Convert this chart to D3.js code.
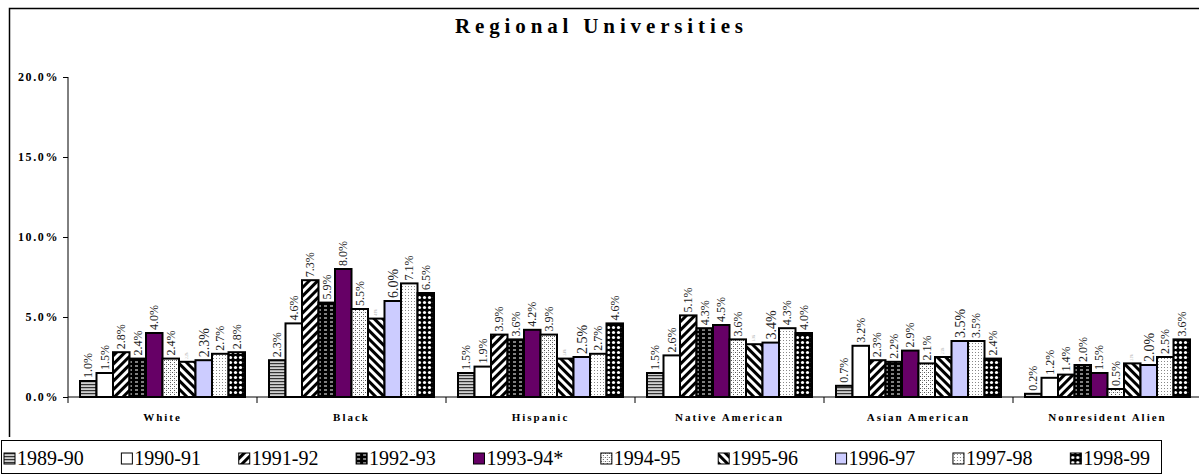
<!DOCTYPE html>
<html>
<head>
<meta charset="utf-8">
<script src="https://cdn.jsdelivr.net/npm/d3@7"></script>
<style>
  body { margin: 0; background: #fff; }
  svg { display: block; }
  svg text { font-family: "Liberation Serif", "Times New Roman", serif; }
</style>
</head>
<body>
<div id="chart"></div>
<script>
var categories = ["White", "Black", "Hispanic", "Native American", "Asian American", "Nonresident Alien"];
var years = ["1989-90", "1990-91", "1991-92", "1992-93", "1993-94*", "1994-95", "1995-96", "1996-97", "1997-98", "1998-99"];
// one array per year, values in category order (percent)
var v1989 = [1.0, 2.3, 1.5, 1.5, 0.7, 0.2];
var v1990 = [1.5, 4.6, 1.9, 2.6, 3.2, 1.2];
var v1991 = [2.8, 7.3, 3.9, 5.1, 2.3, 1.4];
var v1992 = [2.4, 5.9, 3.6, 4.3, 2.2, 2.0];
var v1993 = [4.0, 8.0, 4.2, 4.5, 2.9, 1.5];
var v1994 = [2.4, 5.5, 3.9, 3.6, 2.1, 0.5];
var v1995 = [2.2, 4.9, 2.4, 3.3, 2.5, 2.1];
var v1996 = [2.3, 6.0, 2.5, 3.4, 3.5, 2.0];
var v1997 = [2.7, 7.1, 2.7, 4.3, 3.5, 2.5];
var v1998 = [2.8, 6.5, 4.6, 4.0, 2.4, 3.6];
var yTicks = [0, 5, 10, 15, 20];

var series = [v1989, v1990, v1991, v1992, v1993, v1994, v1995, v1996, v1997, v1998];
var fills = ["url(#p0)", "#ffffff", "url(#p2)", "url(#p3)", "#660066", "url(#p5)", "url(#p6)", "#ccccff", "url(#p8)", "url(#p9)"];
var serif = "Liberation Serif";

var W = 1199, H = 475;
var svg = d3.select("#chart").append("svg").attr("width", W).attr("height", H)
  .attr("font-family", serif);

// patterns
var defs = svg.append("defs");
var p0 = defs.append("pattern").attr("id", "p0").attr("patternUnits", "userSpaceOnUse").attr("width", 4).attr("height", 3);
p0.append("rect").attr("width", 4).attr("height", 3).attr("fill", "#d0d0d0");
p0.append("rect").attr("width", 4).attr("height", 1.2).attr("fill", "#333");

var p2 = defs.append("pattern").attr("id", "p2").attr("patternUnits", "userSpaceOnUse").attr("width", 6).attr("height", 6).attr("patternTransform", "rotate(45)");
p2.append("rect").attr("width", 6).attr("height", 6).attr("fill", "#fff");
p2.append("rect").attr("width", 3).attr("height", 6).attr("fill", "#000");

var p3 = defs.append("pattern").attr("id", "p3").attr("patternUnits", "userSpaceOnUse").attr("width", 6).attr("height", 4);
p3.append("rect").attr("width", 6).attr("height", 4).attr("fill", "#000");
p3.append("rect").attr("x", 1).attr("y", 1.5).attr("width", 3).attr("height", 1).attr("fill", "#fff");

var p5 = defs.append("pattern").attr("id", "p5").attr("patternUnits", "userSpaceOnUse").attr("width", 4).attr("height", 4);
p5.append("rect").attr("width", 4).attr("height", 4).attr("fill", "#fff");
p5.append("rect").attr("x", 0).attr("y", 0).attr("width", 1).attr("height", 1).attr("fill", "#555");
p5.append("rect").attr("x", 2).attr("y", 2).attr("width", 1).attr("height", 1).attr("fill", "#555");
p5.append("rect").attr("x", 2).attr("y", 0).attr("width", 1).attr("height", 1).attr("fill", "#aaa");

var p6 = defs.append("pattern").attr("id", "p6").attr("patternUnits", "userSpaceOnUse").attr("width", 6).attr("height", 6).attr("patternTransform", "rotate(-45)");
p6.append("rect").attr("width", 6).attr("height", 6).attr("fill", "#fff");
p6.append("rect").attr("width", 3).attr("height", 6).attr("fill", "#000");

var p8 = defs.append("pattern").attr("id", "p8").attr("patternUnits", "userSpaceOnUse").attr("width", 3).attr("height", 3);
p8.append("rect").attr("width", 3).attr("height", 3).attr("fill", "#fff");
p8.append("rect").attr("x", 1).attr("y", 1).attr("width", 1).attr("height", 1).attr("fill", "#888");

var p9 = defs.append("pattern").attr("id", "p9").attr("patternUnits", "userSpaceOnUse").attr("width", 5).attr("height", 5);
p9.append("rect").attr("width", 5).attr("height", 5).attr("fill", "#000");
p9.append("circle").attr("cx", 2.5).attr("cy", 2.5).attr("r", 1.6).attr("fill", "#fff");

// chart frame
svg.append("path")
  .attr("d", "M" + (W + 5) + ",8.5 H9.5 V437")
  .attr("fill", "none").attr("stroke", "#000").attr("stroke-width", 1.5);

// title
svg.append("text")
  .attr("x", 455).attr("y", 33)
  .attr("font-family", serif)
  .attr("font-size", 21).attr("font-weight", "bold")
  .attr("textLength", 288).attr("lengthAdjust", "spacing")
  .text("Regional Universities");

var x0 = 68, x1 = 68 + 6 * 189;
var x = d3.scaleBand().domain(categories).range([x0, x1]).padding(0);
var xs = d3.scaleBand().domain(d3.range(years.length)).range([12, 177]).padding(0);
var y = d3.scaleLinear().domain([0, 20]).range([397, 77]);

// y axis
var yAxis = svg.append("g").attr("transform", "translate(" + x0 + ",0)")
  .call(d3.axisLeft(y).tickValues(yTicks).tickSize(5).tickFormat(function (d) { return d3.format(".1f")(d) + "%"; }));
yAxis.attr("font-family", serif);
yAxis.select(".domain").attr("stroke", "#000").attr("d", "M0," + y(20) + "V" + y(0));
yAxis.selectAll("text").attr("font-family", serif).attr("font-size", 12)
  .attr("font-weight", "bold").attr("letter-spacing", 1.6).attr("fill", "#000").attr("x", -9);

// x axis
var xAxis = svg.append("g").attr("transform", "translate(0," + y(0) + ")");
xAxis.append("line").attr("x1", x0).attr("x2", W + 5).attr("stroke", "#000");
xAxis.selectAll("line.tk").data(d3.range(7)).enter().append("line")
  .attr("class", "tk")
  .attr("x1", function (d) { return x0 + d * x.bandwidth(); })
  .attr("x2", function (d) { return x0 + d * x.bandwidth(); })
  .attr("y1", 0).attr("y2", 6).attr("stroke", "#000");
xAxis.selectAll("text.cat").data(categories).enter().append("text")
  .attr("class", "cat")
  .attr("x", function (d) { return x(d) + x.bandwidth() / 2; })
  .attr("y", 24)
  .attr("text-anchor", "middle")
  .attr("font-family", serif)
  .attr("font-size", 11).attr("font-weight", "bold").attr("letter-spacing", 2)
  .text(function (d) { return d; });

// bars
var groups = svg.selectAll("g.cat").data(categories).enter().append("g")
  .attr("class", "cat")
  .attr("transform", function (d) { return "translate(" + x(d) + ",0)"; });

groups.each(function (cat, ci) {
  var g = d3.select(this);
  series.forEach(function (s, si) {
    var v = s[ci];
    g.append("rect")
      .attr("x", xs(si))
      .attr("y", y(v))
      .attr("width", xs.bandwidth())
      .attr("height", y(0) - y(v))
      .attr("fill", fills[si])
      .attr("stroke", "#000").attr("stroke-width", 2);
    var fs = si === 7 ? 14 : (si === 6 ? 3 : 12);
    var cx = xs(si) + xs.bandwidth() / 2 + fs * 0.35;
    g.append("text")
      .attr("transform", "translate(" + cx + "," + (y(v) - 3) + ") rotate(-90)")
      .attr("font-family", serif)
      .attr("font-size", fs)
      .attr("fill", si === 6 ? "#999" : "#222")
      .text(d3.format(".1f")(v) + "%");
  });
});

// legend
var lg = svg.append("g");
lg.append("rect").attr("x", 1.5).attr("y", 440.5).attr("width", 1160).attr("height", 33)
  .attr("fill", "#fff").attr("stroke", "#000").attr("stroke-width", 1);
var items = lg.selectAll("g.item").data(years).enter().append("g").attr("class", "item");
items.append("rect").attr("x", 0).attr("y", -12).attr("width", 11).attr("height", 11)
  .attr("fill", function (d, i) { return fills[i]; })
  .attr("stroke", "#000").attr("stroke-width", 1);
items.append("text").attr("x", 13).attr("y", 0).attr("font-size", 20).attr("fill", "#000")
  .attr("font-family", serif)
  .text(function (d) { return d; });
var widths = [];
items.each(function () { widths.push(13 + d3.select(this).select("text").node().getComputedTextLength()); });
var total = d3.sum(widths);
var startX = 4, endX = 1150;
var gap = (endX - startX - total) / (years.length - 1);
var cur = startX;
items.attr("transform", function (d, i) {
  var t = "translate(" + cur + ",465)";
  cur += widths[i] + gap;
  return t;
});
</script>
</body>
</html>
